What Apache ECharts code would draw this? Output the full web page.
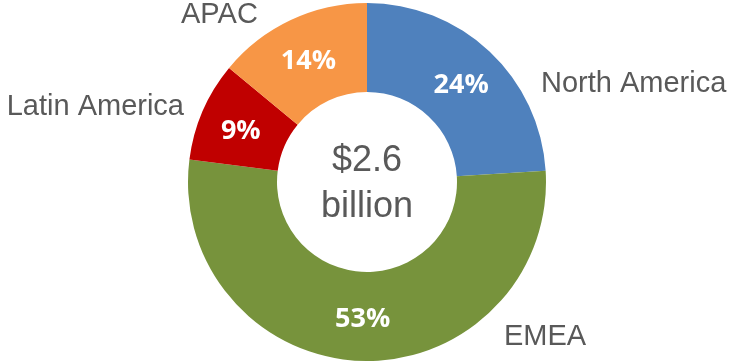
<!DOCTYPE html>
<html>
<head>
<meta charset="utf-8">
<style>
  html, body { margin: 0; padding: 0; background: #fff; }
  #chart { width: 731px; height: 361px; }
</style>
<script src="https://cdn.jsdelivr.net/npm/echarts@6/dist/echarts.min.js"></script>
</head>
<body>
<div id="chart"></div>
<script>
// Revenue share by region (percent), clockwise from 12 o'clock
const regions = ['North America', 'EMEA', 'Latin America', 'APAC'];
const shares = [24, 53, 9, 14];
const regionColors = ['#4F81BD', '#77933C', '#C00000', '#F79646'];
const totalLines = ['$2.6', 'billion'];

// Where each region name sits (left/right anchor, vertical middle)
const nameAnchors = [
  { x: 541, y: 84, align: 'left' },
  { x: 504, y: 337, align: 'left' },
  { x: 184, y: 107, align: 'right' },
  { x: 181, y: 15, align: 'left' }
];

const chart = echarts.init(document.getElementById('chart'), null, { renderer: 'canvas' });

const pieData = regions.map((name, i) => ({
  name,
  value: shares[i],
  itemStyle: { color: regionColors[i] }
}));

const ringCenter = [367, 182];
const ringRadius = [90, 179];

chart.setOption({
  animation: false,
  series: [
    {
      type: 'pie',
      center: ringCenter,
      radius: ringRadius,
      startAngle: 90,
      clockwise: true,
      silent: true,
      data: pieData,
      itemStyle: { borderWidth: 0 },
      label: {
        show: true,
        position: 'inside',
        formatter: '{c}%',
        color: '#ffffff',
        fontFamily: 'Open Sans',
        fontWeight: 'bold',
        fontSize: 27
      },
      labelLine: { show: false },
      // percentages in the upper half sit a little lower in the ring
      labelLayout: function (params) {
        const r = params.labelRect;
        return { dy: (r.y + r.height / 2) < ringCenter[1] ? 4 : 0 };
      }
    },
    {
      type: 'pie',
      center: ringCenter,
      radius: ringRadius,
      startAngle: 90,
      clockwise: true,
      silent: true,
      data: pieData.map(d => ({ name: d.name, value: d.value })),
      itemStyle: { color: 'rgba(0,0,0,0)', borderWidth: 0 },
      label: {
        show: true,
        position: 'outside',
        alignTo: 'none',
        overflow: 'none',
        formatter: '{b}',
        color: '#595959',
        fontFamily: 'Liberation Sans',
        fontSize: 29
      },
      labelLine: { show: false },
      labelLayout: function (params) {
        const a = nameAnchors[params.dataIndex];
        return { x: a.x, y: a.y, align: a.align, verticalAlign: 'middle' };
      }
    }
  ],
  graphic: [
    {
      type: 'text',
      x: ringCenter[0],
      y: ringCenter[1],
      style: {
        text: totalLines.join('\n'),
        x: 0,
        y: 2,
        fill: '#595959',
        font: '36px "Liberation Sans"',
        lineHeight: 46,
        align: 'center',
        verticalAlign: 'middle'
      }
    }
  ]
});
</script>
</body>
</html>
